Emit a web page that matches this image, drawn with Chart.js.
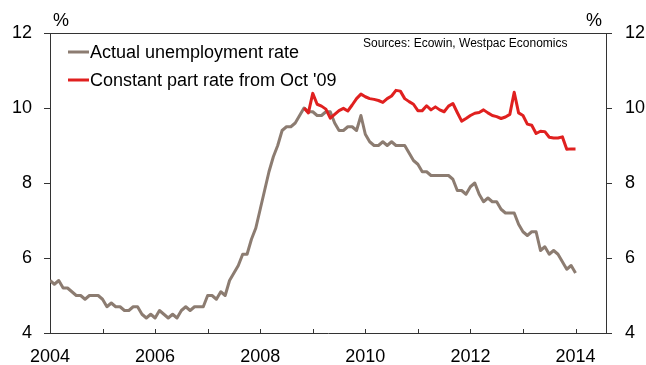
<!DOCTYPE html>
<html>
<head>
<meta charset="utf-8">
<script src="https://cdn.jsdelivr.net/npm/chart.js@4.4.1/dist/chart.umd.min.js"></script>
<style>
  html, body { margin: 0; padding: 0; background: #ffffff; }
  #wrap { position: relative; width: 646px; height: 365px; }
</style>
</head>
<body>
<div id="wrap"><canvas id="c" width="646" height="365"></canvas></div>
<script>
// ---- data (monthly, first point plotted at Jan 2004) ----
const startYear = 2004;
const seriesNames = ['Actual unemployment rate', "Constant part rate from Oct '09"];
const xTickLabels = ['2004', '2006', '2008', '2010', '2012', '2014'];
const yTickLabels = ['4', '6', '8', '10', '12'];
const unemployment = [5.4,
  5.3, 5.4, 5.2, 5.2, 5.1, 5.0, 5.0, 4.9, 5.0, 5.0, 5.0, 4.9,
  4.7, 4.8, 4.7, 4.7, 4.6, 4.6, 4.7, 4.7, 4.5, 4.4, 4.5, 4.4,
  4.6, 4.5, 4.4, 4.5, 4.4, 4.6, 4.7, 4.6, 4.7, 4.7, 4.7, 5.0,
  5.0, 4.9, 5.1, 5.0, 5.4, 5.6, 5.8, 6.1, 6.1, 6.5, 6.8, 7.3,
  7.8, 8.3, 8.7, 9.0, 9.4, 9.5, 9.5, 9.6, 9.8, 10.0, 9.9, 9.9,
  9.8, 9.8, 9.9, 9.9, 9.6, 9.4, 9.4, 9.5, 9.5, 9.4, 9.8, 9.3,
  9.1, 9.0, 9.0, 9.1, 9.0, 9.1, 9.0, 9.0, 9.0, 8.8, 8.6, 8.5,
  8.3, 8.3, 8.2, 8.2, 8.2, 8.2, 8.2, 8.1, 7.8, 7.8, 7.7, 7.9,
  8.0, 7.7, 7.5, 7.6, 7.5, 7.5, 7.3, 7.2, 7.2, 7.2, 6.9, 6.7,
  6.6, 6.7, 6.7, 6.2, 6.3, 6.1, 6.2, 6.1, 5.9, 5.7, 5.8, 5.6];
const constantStartIndex = 58;
const constantPartRate = [10.0, 9.87, 10.39, 10.1, 10.05, 9.97, 9.73, 9.83, 9.93, 9.99,
  9.92, 10.08, 10.25, 10.37, 10.3, 10.25, 10.23, 10.2, 10.15, 10.25,
  10.32, 10.47, 10.45, 10.25, 10.17, 10.1, 9.93, 9.93, 10.06, 9.95,
  10.03, 9.95, 9.9, 10.05, 10.12, 9.88, 9.65, 9.72, 9.8, 9.86,
  9.88, 9.95, 9.87, 9.8, 9.77, 9.72, 9.76, 9.83, 10.42, 9.87,
  9.8, 9.57, 9.54, 9.32, 9.38, 9.37, 9.22, 9.2, 9.2, 9.23,
  8.9, 8.91, 8.91];
const sourceText = 'Sources: Ecowin, Westpac Economics';

const GREY = '#8c7c71';
const RED = '#e0201f';
const FONT = '"Liberation Sans", Arial, sans-serif';

const greyPts = unemployment.map((v, i) => ({ x: startYear + i / 12, y: v }));
const redPts = constantPartRate.map((v, i) => ({ x: startYear + (constantStartIndex + i) / 12, y: v }));

const decor = {
  id: 'decor',
  afterDraw(chart) {
    const ctx = chart.ctx;
    const a = chart.chartArea;
    const xs = chart.scales.x;
    ctx.save();
    // top frame line
    ctx.strokeStyle = '#333333';
    ctx.lineWidth = 1;
    ctx.beginPath();
    ctx.moveTo(a.left, a.top + 0.5);
    ctx.lineTo(a.right, a.top + 0.5);
    ctx.stroke();
    // x ticks (inside, every year)
    ctx.strokeStyle = '#333333';
    for (let yr = 2004; yr <= 2014; yr++) {
      const px = Math.round(xs.getPixelForValue(yr)) + 0.5;
      ctx.beginPath();
      ctx.moveTo(px, a.bottom - 4);
      ctx.lineTo(px, a.bottom + 1);
      ctx.stroke();
    }
    // unit labels
    ctx.fillStyle = '#000000';
    ctx.font = '18px ' + FONT;
    ctx.textBaseline = 'middle';
    ctx.textAlign = 'left';
    ctx.fillText('%', a.left + 3, 21);
    ctx.textAlign = 'right';
    ctx.fillText('%', a.right - 4, 21);
    // sources
    ctx.font = '12px ' + FONT;
    ctx.textAlign = 'left';
    ctx.fillText(sourceText, 363, 44);
    // legend
    const items = [[seriesNames[0], GREY, 52], [seriesNames[1], RED, 80]];
    ctx.font = '18px ' + FONT;
    for (const [label, col, y] of items) {
      ctx.strokeStyle = col;
      ctx.lineWidth = 3;
      ctx.beginPath();
      ctx.moveTo(68, y);
      ctx.lineTo(89, y);
      ctx.stroke();
      ctx.fillStyle = '#000000';
      ctx.fillText(label, 90, y + 1);
    }
    ctx.restore();
  }
};

new Chart(document.getElementById('c'), {
  type: 'line',
  data: {
    datasets: [
      { label: seriesNames[0], data: greyPts, borderColor: GREY, borderWidth: 3, order: 2,
        pointRadius: 0, tension: 0, fill: false, yAxisID: 'y', borderJoinStyle: 'round' },
      { label: seriesNames[1], data: redPts, borderColor: RED, borderWidth: 3, order: 1,
        pointRadius: 0, tension: 0, fill: false, yAxisID: 'y', borderJoinStyle: 'round' }
    ]
  },
  options: {
    responsive: false,
    animation: false,
    events: [],
    layout: { padding: { top: 33, left: 0, right: 0, bottom: 0 } },
    plugins: { legend: { display: false }, tooltip: { enabled: false } },
    scales: {
      x: {
        type: 'linear', min: 2004, max: 2014.58,
        afterFit(s) { s.height = 32; },
        grid: { display: false, drawTicks: false, tickLength: 0 },
        border: { display: true, color: '#333333', width: 1 },
        ticks: {
          stepSize: 1, includeBounds: false, padding: 13, maxRotation: 0, autoSkip: false,
          color: '#000000', font: { family: FONT, size: 18 },
          callback(v) { const s = String(v); return xTickLabels.includes(s) ? s : ''; }
        }
      },
      y: {
        position: 'left', min: 4, max: 12,
        afterFit(s) { s.width = 50; },
        grid: { drawOnChartArea: false, drawTicks: true, tickLength: 6, color: '#333333' },
        border: { display: true, color: '#333333', width: 1 },
        ticks: { stepSize: 2, padding: 12, color: '#000000', font: { family: FONT, size: 18 },
          callback(v) { const s = String(v); return yTickLabels.includes(s) ? s : ''; } }
      },
      y2: {
        position: 'right', min: 4, max: 12,
        afterFit(s) { s.width = 40; },
        grid: { drawOnChartArea: false, drawTicks: true, tickLength: 6, color: '#333333' },
        border: { display: true, color: '#333333', width: 1 },
        ticks: { stepSize: 2, padding: 13, color: '#000000', font: { family: FONT, size: 18 },
          callback(v) { const s = String(v); return yTickLabels.includes(s) ? s : ''; } }
      }
    }
  },
  plugins: [decor]
});
</script>
</body>
</html>
